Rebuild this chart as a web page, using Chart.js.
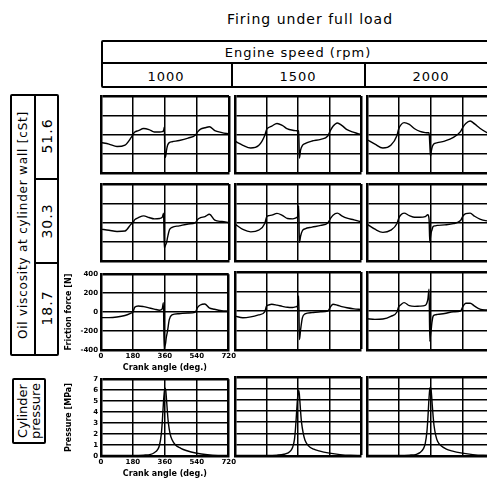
<!DOCTYPE html>
<html><head><meta charset="utf-8">
<script src="https://cdn.jsdelivr.net/npm/chart.js@4.4.0/dist/chart.umd.min.js"></script>
<style>
html,body{margin:0;padding:0;background:#fff;}
body{width:487px;height:480px;overflow:hidden;position:relative;font-family:"DejaVu Sans",sans-serif;color:#000;}
.box{position:absolute;border:2px solid #000;box-sizing:border-box;border-radius:2px;}
.line{position:absolute;background:#000;}
.txt{position:absolute;white-space:nowrap;transform:translate(-50%,-50%);}
.rot{position:absolute;white-space:nowrap;text-align:center;transform:translate(-50%,-50%) rotate(-90deg);}
canvas{position:absolute;}
</style></head><body>
<script>
// ---------------- data ----------------
const TITLE = 'Firing under full load';
const SPEED_HEADER = 'Engine speed (rpm)';
const SPEEDS = ['1000', '1500', '2000'];
const VISC_HEADER = 'Oil viscosity at cylinder wall [cSt]';
const VISCOSITIES = ['51.6', '30.3', '18.7'];
const PRESSURE_LABEL = ['Cylinder', 'pressure'];

const X_TICKS = [0, 180, 360, 540, 720];
const F_TICKS = [-400, -200, 0, 200, 400];
const P_TICKS = [0, 1, 2, 3, 4, 5, 6, 7];

// crank angle (deg) for friction force traces
const ANGLES = [0, 45, 90, 135, 170, 180, 190, 210, 240, 270, 300, 330, 345, 352, 356, 360, 364, 368, 375, 385, 400, 440, 490, 530, 545, 560, 585, 610, 640, 680, 720];

// friction force [N]
const F_51_1000 = [-83, -100, -125, -110, -30, 0, 25, 40, 62, 51, 26, 26, 30, 40, 75, -240, -224, -170, -110, -83, -75, -62, -37, -8, 30, 55, 70, 80, 40, 20, 5];
const F_51_1500 = [-70, -112, -140, -115, -10, 50, 70, 88, 115, 95, 58, 44, 40, 39, 39, 39, 38, -246, -160, -115, -95, -68, -50, -15, 40, 85, 120, 95, 50, 22, 0];
const F_51_2000 = [-52, -100, -140, -112, -10, 60, 95, 123, 105, 60, 32, 20, 18, 18, -100, -228, -180, -140, -108, -92, -85, -68, -30, 30, 80, 115, 140, 110, 65, 20, 0];

const F_30_1000 = [-69, -80, -93, -88, -15, 0, 30, 50, 69, 52, 38, 42, 55, 96, -265, -250, -230, -214, -150, -76, -50, -35, -15, -3, 35, 50, 62, 85, 25, 10, 0];
const F_30_1500 = [-17, -72, -97, -80, -10, 55, 70, 76, 95, 75, 42, 38, 45, 52, 55, 80, 172, -207, -140, -86, -65, -48, -30, -5, 40, 76, 97, 70, 45, 28, 7];
const F_30_2000 = [-17, -70, -103, -80, -10, 45, 75, 97, 72, 55, 55, 62, 80, 30, -207, -150, -103, -80, -41, -35, -30, -25, -12, 20, 70, 92, 97, 65, 35, 17, 10];

const F_19_1000 = [-58, -58, -52, -36, -10, 0, 51, 65, 58, 45, 32, 20, 34, 100, -393, -360, -330, -270, -200, -80, -30, -17, -10, -3, 50, 75, 85, 45, 30, 15, 10];
const F_19_1500 = [-52, -69, -60, -40, -8, 50, 60, 69, 60, 48, 38, 36, 42, 45, 50, 80, 155, -293, -190, -70, -30, -17, -8, -2, 40, 69, 59, 45, 33, 22, 17];
const F_19_2000 = [-80, -86, -82, -55, -10, 45, 62, 86, 55, 47, 50, 58, 120, 224, -310, -250, -190, -120, -52, -40, -35, -25, -8, 0, 50, 80, 80, 50, 20, 10, 5];

// cylinder pressure [MPa]
const P_ANGLES = [0, 90, 180, 240, 280, 300, 320, 330, 340, 345, 350, 355, 360, 365, 370, 375, 380, 390, 400, 420, 450, 480, 540, 600, 660, 720];
const P_1000 = [0.05, 0.05, 0.05, 0.08, 0.15, 0.3, 0.6, 1.0, 2.0, 3.0, 4.3, 5.5, 6.2, 6.0, 5.0, 3.9, 3.0, 2.0, 1.5, 1.0, 0.7, 0.5, 0.25, 0.12, 0.06, 0.05];
const P_1500 = [0.05, 0.05, 0.05, 0.08, 0.15, 0.25, 0.5, 0.8, 1.5, 2.3, 3.4, 4.6, 5.5, 5.8, 5.0, 3.9, 3.0, 2.0, 1.4, 0.9, 0.6, 0.45, 0.25, 0.12, 0.06, 0.05];
const P_2000 = [0.05, 0.05, 0.05, 0.08, 0.15, 0.3, 0.65, 1.1, 2.2, 3.3, 4.7, 5.8, 6.1, 5.6, 4.5, 3.5, 2.7, 1.8, 1.3, 0.9, 0.6, 0.45, 0.25, 0.12, 0.06, 0.05];

const FRICTION_ROWS = [
  [F_51_1000, F_51_1500, F_51_2000],
  [F_30_1000, F_30_1500, F_30_2000],
  [F_19_1000, F_19_1500, F_19_2000]
];
const PRESSURE_ROW = [P_1000, P_1500, P_2000];

// ---------------- layout ----------------
const COL_X = [[101, 229], [235, 361], [367, 494]];
const ROW_Y = [[96, 173], [184, 261], [272, 350]];
const P_Y = [377, 456];
const FONT = '"DejaVu Sans", sans-serif';

function el(cls, css, text) {
  const d = document.createElement('div');
  d.className = cls;
  Object.assign(d.style, css);
  if (text !== undefined) d.innerHTML = text;
  document.body.appendChild(d);
  return d;
}

// Title and header
el('txt', {left: '310px', top: '19px', fontSize: '14px', letterSpacing: '1px'}, TITLE);
el('box', {left: '101px', top: '40px', width: '400px', height: '48px'});
el('line', {left: '101px', top: '62px', width: '400px', height: '2px'});
el('line', {left: '231px', top: '63px', width: '2px', height: '25px'});
el('line', {left: '364px', top: '63px', width: '2px', height: '25px'});
el('txt', {left: '298px', top: '52px', fontSize: '13px', letterSpacing: '1px'}, SPEED_HEADER);
const headX = [166, 298, 431];
SPEEDS.forEach((s, i) => el('txt', {left: headX[i] + 'px', top: '76px', fontSize: '13px', letterSpacing: '1px'}, s));

// Viscosity box
el('box', {left: '10px', top: '94px', width: '49px', height: '262px'});
el('line', {left: '34px', top: '94px', width: '2px', height: '262px'});
el('line', {left: '35px', top: '178px', width: '23px', height: '2px'});
el('line', {left: '35px', top: '262px', width: '23px', height: '2px'});
el('rot', {left: '23px', top: '225px', fontSize: '12px', letterSpacing: '0.8px'}, VISC_HEADER);
const viscY = [136, 221, 308];
VISCOSITIES.forEach((v, i) => el('rot', {left: '47px', top: viscY[i] + 'px', fontSize: '14px', letterSpacing: '1px'}, v));

// Cylinder pressure box
el('box', {left: '12px', top: '378px', width: '34px', height: '66px'});
el('rot', {left: '29px', top: '411px', fontSize: '13px', lineHeight: '13px'}, PRESSURE_LABEL.join('<br>'));

// ---------------- charts ----------------
function gridWidth(max) {
  return ctx => (ctx.tick && ctx.tick.value === max ? 2.5 : 1.5);
}

function makePanel(x0, x1, y0, y1, xs, ys, yMin, yMax, yTicks, labeled, yTitle) {
  const c = document.createElement('canvas');
  let left, top, w, h, padding, yW, xH;
  if (labeled) {
    left = 64; top = y0 - 5; w = x1 + 9 - left; h = (y1 + 23) - top;
    padding = {left: 0, top: 5, right: 9, bottom: 0};
    yW = x0 - left; xH = 23;
  } else {
    left = x0 - 2; top = y0 - 2; w = x1 - x0 + 4; h = y1 - y0 + 4;
    padding = 2; yW = 0; xH = 0;
  }
  c.width = w; c.height = h;
  c.style.left = left + 'px'; c.style.top = top + 'px';
  c.style.width = w + 'px'; c.style.height = h + 'px';
  document.body.appendChild(c);
  const tickFont = {family: FONT, size: 7, weight: 'bold'};
  const titleFont = {family: FONT, size: 8, weight: 'bold'};
  new Chart(c, {
    type: 'line',
    data: {datasets: [{
      data: xs.map((a, i) => ({x: a, y: ys[i]})),
      borderColor: '#000', borderWidth: 1.4, pointRadius: 0,
      cubicInterpolationMode: 'monotone', fill: false
    }]},
    options: {
      responsive: false, animation: false, devicePixelRatio: 1, events: [],
      layout: {padding},
      plugins: {legend: {display: false}, tooltip: {enabled: false}},
      scales: {
        x: {
          type: 'linear', min: 0, max: 720,
          afterBuildTicks: s => { s.ticks = X_TICKS.map(v => ({value: v})); },
          grid: {color: '#000', lineWidth: gridWidth(720), drawTicks: false},
          border: {color: '#000', width: 2.5},
          ticks: {display: labeled, autoSkip: false, font: tickFont, color: '#000', padding: 2, maxRotation: 0},
          title: {display: labeled, text: 'Crank angle (deg.)', font: titleFont, color: '#000', padding: 0},
          afterFit: s => { s.height = xH; }
        },
        y: {
          type: 'linear', min: yMin, max: yMax,
          afterBuildTicks: s => { s.ticks = yTicks.map(v => ({value: v})); },
          grid: {color: '#000', lineWidth: gridWidth(yMax), drawTicks: false},
          border: {color: '#000', width: 2.5},
          ticks: {display: labeled, autoSkip: false, font: tickFont, color: '#000', padding: 3},
          title: {display: labeled, text: yTitle, font: titleFont, color: '#000', padding: 0},
          afterFit: s => { s.width = yW; }
        }
      }
    }
  });
}

FRICTION_ROWS.forEach((row, r) => {
  row.forEach((vals, c) => {
    const labeled = (r === 2 && c === 0);
    makePanel(COL_X[c][0], COL_X[c][1], ROW_Y[r][0], ROW_Y[r][1], ANGLES, vals, -400, 400, F_TICKS, labeled, 'Friction force [N]');
  });
});
PRESSURE_ROW.forEach((vals, c) => {
  makePanel(COL_X[c][0], COL_X[c][1], P_Y[0], P_Y[1], P_ANGLES, vals, 0, 7, P_TICKS, c === 0, 'Pressure [MPa]');
});
</script>
</body></html>
